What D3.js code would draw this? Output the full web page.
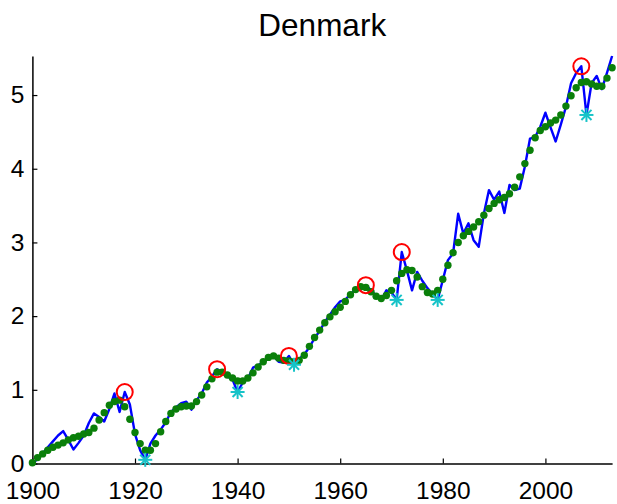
<!DOCTYPE html>
<html>
<head>
<meta charset="utf-8">
<script src="https://cdn.jsdelivr.net/npm/d3@7"></script>
<style>
  html, body { margin: 0; padding: 0; background: #fff; }
  svg { display: block; }
  text { font-family: "Liberation Sans", Arial, sans-serif; fill: #000; }
</style>
</head>
<body>
<svg id="chart" width="617" height="504"></svg>
<script>
const title = "Denmark";
const startYear = 1900;
const years = d3.range(1900, 2014);
const xTicks = [1900, 1920, 1940, 1960, 1980, 2000];
const yTicks = [0, 1, 2, 3, 4, 5];

// annual series (blue line), 1900..2013
const annual = [
  0.00, 0.06, 0.14, 0.22, 0.30, 0.38, 0.44, 0.32, 0.19, 0.28,
  0.38, 0.55, 0.68, 0.63, 0.57, 0.74, 0.95, 0.70, 0.97, 0.80,
  0.40, 0.18, 0.05, 0.27, 0.38, 0.46, 0.56, 0.70, 0.76, 0.82,
  0.84, 0.73, 0.86, 0.95, 1.10, 1.18, 1.28, 1.24, 1.18, 1.14,
  0.97, 1.10, 1.15, 1.30, 1.33, 1.38, 1.42, 1.46, 1.38, 1.37,
  1.46, 1.34, 1.42, 1.48, 1.58, 1.70, 1.80, 1.92, 2.02, 2.12,
  2.20, 2.22, 2.30, 2.36, 2.36, 2.42, 2.35, 2.28, 2.22, 2.35,
  2.32, 2.22, 2.87, 2.62, 2.35, 2.60, 2.48, 2.38, 2.30, 2.22,
  2.49, 2.76, 2.85, 3.39, 3.12, 3.26, 3.03, 2.94, 3.39, 3.71,
  3.58, 3.69, 3.40, 3.78, 3.71, 3.73, 4.03, 4.41, 4.43, 4.57,
  4.76, 4.56, 4.37, 4.60, 4.84, 5.16, 5.30, 5.39, 4.73, 5.16,
  5.26, 5.08, 5.30, 5.53
];

// smoothed series (green dots), 1900..2013
const smooth = [
  0.01, 0.08, 0.13, 0.18, 0.22, 0.25, 0.28, 0.32, 0.35, 0.37,
  0.40, 0.42, 0.48, 0.59, 0.69, 0.79, 0.84, 0.86, 0.77, 0.60,
  0.42, 0.27, 0.18, 0.18, 0.27, 0.43, 0.57, 0.68, 0.74, 0.77,
  0.78, 0.78, 0.84, 0.93, 1.04, 1.15, 1.24, 1.24, 1.20, 1.16,
  1.12, 1.12, 1.16, 1.23, 1.31, 1.38, 1.44, 1.46, 1.43, 1.40,
  1.39, 1.38, 1.40, 1.47, 1.59, 1.71, 1.81, 1.91, 1.99, 2.06,
  2.12, 2.20, 2.29, 2.36, 2.40, 2.39, 2.33, 2.27, 2.24, 2.28,
  2.35, 2.48, 2.58, 2.63, 2.62, 2.53, 2.40, 2.32, 2.30, 2.35,
  2.50, 2.69, 2.86, 3.00, 3.09, 3.15, 3.21, 3.28, 3.37, 3.46,
  3.53, 3.58, 3.61, 3.66, 3.75, 3.89, 4.07, 4.25, 4.42, 4.52,
  4.57, 4.62, 4.66, 4.73, 4.85, 4.99, 5.10, 5.17, 5.18, 5.15,
  5.12, 5.12, 5.23, 5.37
];

// turning points of the annual series
const peakYears = [1918, 1936, 1950, 1965, 1972, 2007];
const troughYears = [1922, 1940, 1951, 1971, 1979, 2008];

const svg = d3.select("#chart");
const x = d3.scaleLinear().domain([1900, 2013]).range([32.4, 612.1]);
const y = d3.scaleLinear().domain([0, 5.53]).range([463.5, 56]);

const val = yr => annual[yr - startYear];

// axes
const xAxis = svg.append("g").attr("transform", `translate(0,${y(0)})`)
  .call(d3.axisBottom(x).tickValues(xTicks).tickFormat(d3.format("d")).tickSizeInner(-5).tickSizeOuter(0).tickPadding(18));
const yAxis = svg.append("g").attr("transform", `translate(${x(1900)},0)`)
  .call(d3.axisLeft(y).tickValues(yTicks).tickFormat(d3.format("d")).tickSizeInner(-5).tickSizeOuter(0).tickPadding(8));
[xAxis, yAxis].forEach(g => {
  g.select(".domain").attr("stroke", "#000").attr("stroke-width", 1.5);
  g.selectAll(".tick line").attr("stroke", "#000").attr("stroke-width", 1.2);
  g.selectAll(".tick text").style("font-family", '"Liberation Sans", Arial, sans-serif').style("font-size", "24.5px").attr("fill", "#000");
});

// blue annual line
svg.append("path")
  .datum(years)
  .attr("fill", "none")
  .attr("stroke", "#0000ff")
  .attr("stroke-width", 2.4)
  .attr("stroke-linejoin", "round")
  .attr("d", d3.line().x(d => x(d)).y(d => y(val(d))));

// green smoothed dots
svg.append("g").selectAll("circle")
  .data(years)
  .join("circle")
  .attr("cx", d => x(d))
  .attr("cy", d => y(smooth[d - startYear]))
  .attr("r", 3.7)
  .attr("fill", "#0a7f0a");

// red peak circles
svg.append("g").selectAll("circle")
  .data(peakYears)
  .join("circle")
  .attr("cx", d => x(d))
  .attr("cy", d => y(val(d)))
  .attr("r", 8)
  .attr("fill", "none")
  .attr("stroke", "#ff0000")
  .attr("stroke-width", 2);

// cyan trough asterisks
const ast = svg.append("g").selectAll("g")
  .data(troughYears)
  .join("g")
  .attr("transform", d => `translate(${x(d)},${y(val(d))})`);
const s = 7;
[[-s, 0, s, 0], [0, -s, 0, s], [-s * 0.72, -s * 0.72, s * 0.72, s * 0.72], [-s * 0.72, s * 0.72, s * 0.72, -s * 0.72]]
  .forEach(([x1, y1, x2, y2]) => {
    ast.append("line").attr("x1", x1).attr("y1", y1).attr("x2", x2).attr("y2", y2)
      .attr("stroke", "#17c3c8").attr("stroke-width", 2);
  });

// title
svg.append("text")
  .attr("x", (x(1900) + x(2013)) / 2)
  .attr("y", 36)
  .attr("text-anchor", "middle")
  .style("font-size", "31.5px")
  .text(title);
</script>
</body>
</html>
